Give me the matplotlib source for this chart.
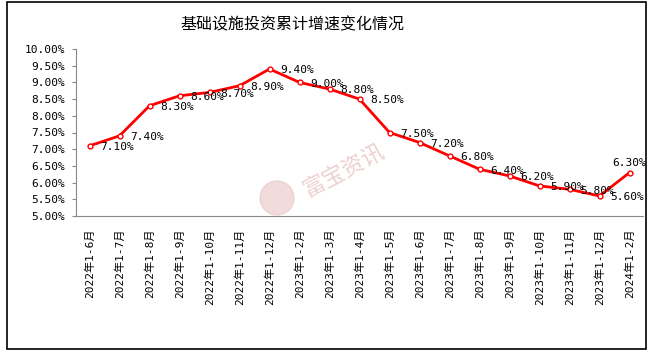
"""Infrastructure investment cumulative growth, line chart with data labels."""
import matplotlib

matplotlib.use("Agg")
import matplotlib.pyplot as plt
from matplotlib.patches import Ellipse, Rectangle

categories = [
    "2022年1-6月", "2022年1-7月", "2022年1-8月", "2022年1-9月", "2022年1-10月",
    "2022年1-11月", "2022年1-12月", "2023年1-2月", "2023年1-3月", "2023年1-4月",
    "2023年1-5月", "2023年1-6月", "2023年1-7月", "2023年1-8月", "2023年1-9月",
    "2023年1-10月", "2023年1-11月", "2023年1-12月", "2024年1-2月",
]
growth = [7.1, 7.4, 8.3, 8.6, 8.7, 8.9, 9.4, 9.0, 8.8, 8.5,
          7.5, 7.2, 6.8, 6.4, 6.2, 5.9, 5.8, 5.6, 6.3]
y_ticks = [5.0, 5.5, 6.0, 6.5, 7.0, 7.5, 8.0, 8.5, 9.0, 9.5, 10.0]

MONO = ["DejaVu Sans Mono", "Noto Sans CJK SC"]
CJK = ["Noto Sans CJK SC", "DejaVu Sans"]

fig = plt.figure(figsize=(6.51, 3.56), dpi=100)
fig.patches.append(Rectangle((7 / 651, 1 - 349 / 356), 639 / 651, 347 / 356,
                             transform=fig.transFigure, fill=False,
                             edgecolor="black", lw=1.2))
ax = fig.add_axes([76 / 651, 1 - 216 / 356, 567 / 651, 167 / 356])

x = list(range(len(categories)))
ax.plot(x, growth, color="#ff0000", lw=2, marker="o", ms=3.5,
        mfc="white", mec="#ff0000", mew=1, zorder=3)

for i, v in enumerate(growth):
    if i == len(growth) - 1:
        ax.annotate(f"{v:.2f}%", (i, v), xytext=(0, 3), textcoords="offset points",
                    ha="center", va="bottom", fontsize=8, family=MONO)
    else:
        ax.annotate(f"{v:.2f}%", (i, v), xytext=(8, -1), textcoords="offset points",
                    ha="left", va="center", fontsize=8, family=MONO)

ax.set_xlim(-0.45, len(categories) - 0.55)
ax.set_ylim(5, 10)
ax.set_yticks(y_ticks)
ax.set_yticklabels([f"{t:.2f}%" for t in y_ticks], family=MONO, fontsize=8)
ax.set_xticks(x)
ax.set_xticklabels(categories, rotation=90, family=MONO, fontsize=8)
ax.tick_params(axis="x", length=0, pad=9)
ax.tick_params(axis="y", length=3, color="#888888", pad=5)
for side in ("top", "right"):
    ax.spines[side].set_visible(False)
for side in ("left", "bottom"):
    ax.spines[side].set_color("#888888")

fig.text(292 / 651, 1 - 25 / 356, "基础设施投资累计增速变化情况",
         ha="center", va="center", fontsize=11.5, family=CJK)

# watermark
fig.patches.append(Ellipse((277 / 651, 1 - 198 / 356), 34 / 651, 34 / 356,
                           transform=fig.transFigure, color="#e8c4c4", alpha=0.6, zorder=0))
fig.text(343 / 651, 1 - 170 / 356, "富宝资讯", rotation=28, ha="center", va="center",
         fontsize=16, color="#e8c4c4", alpha=0.8, family=CJK)

fig.savefig("out.png", dpi=100)
